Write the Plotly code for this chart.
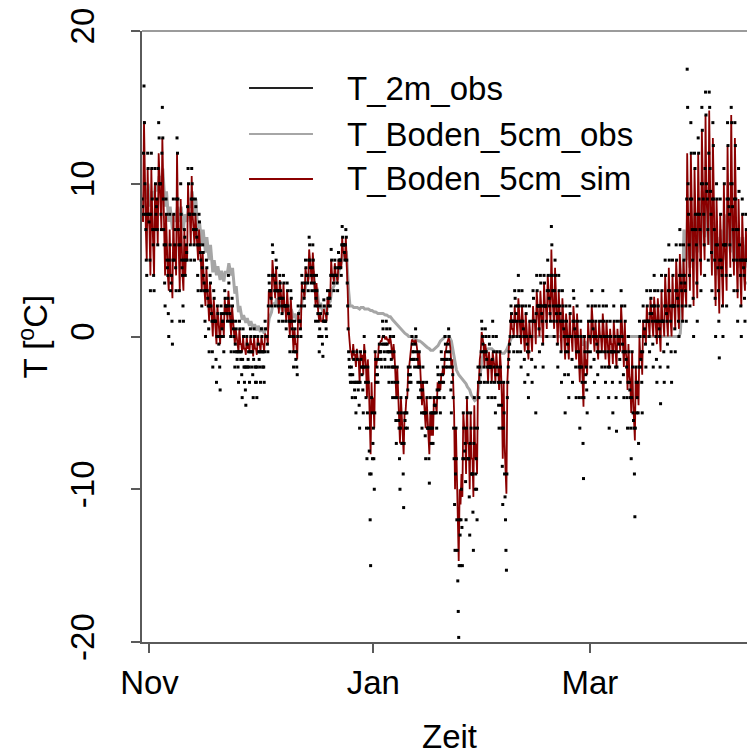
import plotly.graph_objects as go
from datetime import datetime, timedelta

# ---------------- data ----------------
start_day = "2016-10-30"
obs_hours = [0, 6, 12, 18]          # hours of the t2m_obs / simulated soil values per day
obs_hours_b = [3, 9, 15, 21]        # hours of the t2m_obs_b values per day
soil_obs_hours = [6, 15]            # hours of the observed soil values per day

# T_2m_obs, 4 values per day (00, 06, 12, 18 h), Oct 30 .. Apr 13
t2m_obs = [
    [9, 8, 16.4, 10], [7, 4, 12, 8], [8, 3, 12, 9], [6, 3, 11, 8], [9, 6, 14, 10],
    [10, 7, 15, 9], [6, 2, 9, 5], [4, 0, 8, 3], [4, -0.5, 9, 5], [7, 3, 13, 9],
    [6, 1, 10, 5], [4, 1, 7, 4], [6, 5, 11, 8], [8, 5, 11, 9], [7, 5, 9, 7],
    [6, 3, 8, 6], [5, 2, 6, 4], [3, 0, 5, 3], [2, -1, 4, 2], [1, -2, 3, 1],
    [1, -3, 2, 0], [0, -3.5, 2, 0.5], [1, -1, 3, 2], [2, 1, 4, 2], [1, -1, 2.5, 1],
    [0, -2, 1, -1], [-1, -3, 1, -1], [-1, -4, 0.5, -2], [-2, -4.5, 0, -2], [-1, -3, 0.5, -1],
    [-1, -4, 0.5, -2], [-2, -4, 0, -1], [-1, -3, 0.5, -1], [-1, -3, 1, 0], [0, -1, 4, 3],
    [3, 2, 6, 4], [4, 2, 5, 3], [3, 1, 4, 3], [2, 1, 4, 2], [2, 0.5, 3.5, 2],
    [1, -1, 3, 1], [0, -2, 1, -1], [-1, -2.5, 2, 1], [1, 0, 4, 3], [3, 2, 5, 4],
    [4, 3, 6.5, 5], [4, 3, 6, 4], [3, 1, 4, 2], [1, -1, 2, 0], [0, -1.3, 2.4, 1],
    [1, 0, 3, 2], [3, 2, 5.7, 4], [4, 3, 5, 4], [4, 3, 5.5, 4.5], [5, 4, 7.2, 6],
    [6, 5, 7, 5], [2, -1, -2, -3], [-2, -4, -1, -3], [-3, -5, -1, -3], [-3, -6, -1, -2],
    [-2, -5, 0, -2], [-4, -8, -2, -6], [-9, -15, -4, -8], [-6, -10, -1, -3], [-2, -3, 0, -1],
    [-1, -2, 1, 0], [-1, -2, 1, -0.5], [-1, -3, 0.5, -1], [-2, -4, 0, -2], [-4, -7, -2, -5],
    [-6, -10, -4, -7], [-7, -11.2, -5, -6], [-4, -6, -2, -3], [-2, -3, 0, -1], [-1, -2, 0.5, -1],
    [-2, -4, -1, -3], [-4, -6, -2, -5], [-5, -8, -3, -6], [-6, -9.6, -4, -7], [-5, -7, -4, -5],
    [-4, -6, -2, -4], [-3, -5, -1, -3], [-2, -4, 0, -2], [-1, -2, 0.5, -1], [-2, -5, -2, -4],
    [-8, -14, -6, -12], [-16, -19.7, -12, -15], [-10, -15, -5, -8], [-7, -12, -4, -8], [-8, -13, -5, -9],
    [-9, -14, -4, -10], [-8, -12, -2, -4], [-2, -3, 1, 0], [-1, -3, 0.5, -1], [-2, -4, 0, -2],
    [-2, -4, 1, -1], [-3, -5, 0, -2], [-3, -6, -1, -3], [-6, -11, -3, -9], [-12, -15.3, -4, -2],
    [-1, 0, 2, 1], [1, -1, 3, 2], [1, -1, 4, 2], [0, -2, 3, 1], [0, -3, 2, 0],
    [-1, -4, 2, 0], [0, -3, 3, 1], [1, -5, 4, 2], [2, -1, 4, 2], [1, -2, 4, 2],
    [2, 0, 5, 3], [2, 1, 7.2, 4], [2, 0, 5, 2], [1, -2, 4, 2], [1, -3, 3, 1],
    [0, -5, 2, 0], [-1, -4, 2, 0], [0, -3, 3, 1], [0, -4, 2, 0], [-2, -6, 1, -2],
    [-4, -9.3, 0, -3], [-2, -5, 2, 0], [0, -2, 3, 1], [0, -3, 2, 0], [-1, -4, 2, 0],
    [0, -2, 3, 1], [-1, -3, 2, 0], [-2, -6, 1, -1], [-1, -5, 2, 0], [-2, -6.2, 1, -1],
    [0, -3, 3, 0], [-1, -4, 2, -1], [-2, -6, 0, -3], [-4, -8, -1, -5], [-6, -11.8, -2, -5],
    [-3, -7, 1, -2], [-1, -5, 2, 0], [1, -2, 3, 1], [1, -1, 3, 2], [1, -2, 4, 2],
    [0, -3, 3, 1], [0, -4.4, 4, 1], [1, -3, 5, 2], [1, -2, 6, 3], [1, -3, 5, 2],
    [2, -1, 6, 3], [2, 0, 7, 4], [3, 1, 6, 4], [3, 1, 17.5, 10], [6, 2, 14, 9],
    [5, 0, 12, 8], [6, 1, 13, 9], [7, 3, 15, 10], [8, 4, 16, 10], [9, 5, 16, 11],
    [8, 3, 14, 9], [5, 0, 10, 6], [3, -1.4, 9, 5], [4, 0, 11, 6], [6, 2, 14, 9],
    [8, 4, 15, 10], [7, 3, 14, 9], [5, 1, 11, 6], [4, 0, 9, 5], [4, 1, 8, 5],
    [5, 2, 8, 5],
]

# T_2m_obs, further 4 values per day (03, 09, 15, 21 h)
t2m_obs_b = [
    [8.5, 12, 14, 8], [5, 8, 11, 7.5], [5, 8, 11, 7], [4, 7, 10, 8.5], [7, 11, 13, 10],
    [8, 12, 13, 7], [3.5, 6, 8, 4.5], [1.5, 5, 6, 3.5], [1, 5, 8, 6], [4.5, 9, 12, 7],
    [3, 6, 8, 4.5], [2, 5, 6.5, 5], [5.5, 8.5, 10, 8], [6, 9, 10, 8], [6, 8, 8.5, 6.5],
    [4, 6, 7.5, 5.5], [3, 4.5, 5.5, 3.5], [1, 3, 4.5, 2.5], [0.5, 2, 3.5, 1.5], [-1, 1, 2.5, 1],
    [-1.5, 0, 1.5, -0.5], [-2, 0, 1.5, 1], [0, 1.5, 2.5, 2], [1.5, 2.5, 3.5, 1.5], [0, 1, 2, 0.5],
    [-1, -0.5, 0.5, -1.5], [-2, -1, 0.5, -1.5], [-2.5, -1.5, 0, -3], [-3.5, -2, -0.5, -1.5], [-2, -1, 0, -2],
    [-2.5, -1.5, 0, -3], [-3, -2, -0.5, -1.5], [-2, -1, 0, -2], [-2, -1, 0.5, 0], [-0.5, 2, 3.5, 3],
    [2.5, 4, 5.5, 4], [3, 3.5, 4.5, 3], [2, 2.5, 3.5, 2.5], [1.5, 2.5, 3.5, 2], [1, 2, 3, 1.5],
    [0, 1, 2.5, 0.5], [-1, 0, 0.5, -1.5], [-2, 0, 1.5, 1], [0.5, 2, 3.5, 3], [2.5, 3.5, 4.5, 4],
    [3.5, 5, 6, 4.5], [3.5, 4.5, 5, 3.5], [2, 2.5, 3, 1.5], [0, 0.5, 1.5, 0], [-0.5, 1, 2, 1],
    [0.5, 1.5, 2.5, 2.5], [2.5, 4, 5, 4], [3.5, 4, 4.5, 4], [3.5, 4.5, 5, 5], [4.5, 6, 6.5, 6],
    [5.5, 6, 6.5, 3.5], [0.5, -1.5, -2.5, -2.5], [-3, -2.5, -1.5, -3.5], [-4, -3, -1.5, -3.5], [-4.5, -3, -1.5, -2.5],
    [-3.5, -2, -1, -3], [-6, -5, -3, -7.5], [-12, -9, -5, -7], [-8, -5, -1.5, -2.5], [-2.5, -1.5, -0.5, -1],
    [-1.5, -0.5, 0.5, -0.5], [-1.5, -0.5, 0.5, -1], [-2, -1, 0, -1.5], [-3, -2, -1, -3], [-5.5, -4, -3, -5.5],
    [-8, -6, -5, -7], [-9, -7, -5.5, -5], [-5, -3.5, -2.5, -2.5], [-2.5, -1.5, -0.5, -1.5], [-1.5, -0.5, 0, -1.5],
    [-3, -2, -2, -3.5], [-5, -3.5, -3, -5], [-6.5, -5, -4, -6], [-8, -6, -5, -6], [-6, -5, -4.5, -4.5],
    [-5, -3.5, -2.5, -3.5], [-4, -2.5, -1.5, -2.5], [-3, -1.5, -0.5, -1.5], [-1.5, -0.5, 0, -1.5], [-3.5, -3, -2.5, -6],
    [-11, -9, -8, -14], [-18, -15, -13, -12], [-12.5, -8, -6, -7.5], [-9.5, -6, -5, -8], [-10.5, -7, -6, -9],
    [-11.5, -7, -6, -9], [-10, -6, -3, -3], [-2.5, -1, 0.5, -0.5], [-2, -1, 0, -1.5], [-3, -2, -0.5, -2],
    [-3, -1.5, 0, -2], [-4, -2.5, -1, -2.5], [-4.5, -3, -2, -4.5], [-8.5, -6, -5, -10.5], [-14, -9, -3, -1.5],
    [-0.5, 1, 1.5, 1], [0, 1, 2.5, 1.5], [0, 2, 3, 1], [-1, 1, 2, 0.5], [-1.5, 0, 1.5, -0.5],
    [-2.5, -1, 1, 0], [-1.5, 1, 2.5, 1], [-2, 1.5, 3, 2], [0.5, 2, 3.5, 1.5], [-0.5, 2, 3.5, 2],
    [1, 3, 4, 2.5], [1.5, 4, 6, 3], [1, 3, 4, 1.5], [-0.5, 2, 3, 1.5], [-1, 1, 2, 0.5],
    [-2.5, -1, 1, -0.5], [-2.5, 0, 1.5, 0], [-1.5, 1, 2.5, 0.5], [-2, -1, 1, -1], [-4, -2, 0, -3],
    [-7, -4, -1, -2.5], [-3.5, -1, 1, 0], [-1, 1, 2, 0.5], [-1.5, 0, 1, -0.5], [-2.5, -1, 1, 0],
    [-1, 1, 2, 0], [-2, 0, 1, -1], [-4, -2, 0, -1], [-3, -1, 1, -1], [-4, -2, 0, -0.5],
    [-1.5, 1, 2, -0.5], [-2.5, -1, 1, -1.5], [-4, -3, -1, -3.5], [-6, -4, -2, -5.5], [-9, -6, -3, -4],
    [-5, -2, 0, -1.5], [-3, -1, 1, 0.5], [-0.5, 1, 2, 1], [0, 1.5, 2.5, 1.5], [-0.5, 2, 3, 1],
    [-1.5, 1, 2, 0.5], [-2, 1, 3, 1], [-1, 2, 4, 1.5], [-0.5, 3, 5, 2], [-1, 2, 4, 2],
    [0.5, 3, 5, 2.5], [1, 4, 6, 3.5], [2, 4, 5, 3.5], [2, 9, 15, 8], [4, 9, 12, 7],
    [2.5, 7, 11, 7], [3.5, 8, 12, 8], [5, 10, 13.5, 9], [6, 11, 14.5, 9.5], [7, 12, 15, 9.5],
    [5.5, 9, 12.5, 7], [2.5, 6, 9, 4.5], [1, 5, 8, 4.5], [2, 6, 10, 6], [4, 9, 12.5, 8.5],
    [6, 10, 14, 8.5], [5, 9, 12.5, 7], [3, 7, 9.5, 5], [2, 5, 8, 4.5], [2.5, 5, 7, 5],
    [3.5, 5.5, 7, 5],
]

# T_Boden_5cm_sim, 4 values per day (00, 06, 12, 18 h)
boden_5cm_sim = [
    [8, 7.5, 14.1, 9], [7, 5, 11, 8], [7, 4, 11, 8], [6, 4, 10, 7], [9, 6, 12, 10],
    [9, 7, 13, 9], [6, 4, 8, 5], [4, 3, 7, 4], [4, 2.5, 8, 5], [6, 4, 12, 8],
    [6, 3, 9, 5], [4, 3, 7, 4], [6, 5, 10, 8], [8, 6, 10.5, 8], [7, 6, 8, 7],
    [6, 5, 7, 6], [5, 3, 5.5, 4], [3, 2, 4.5, 3], [2, 1, 3.5, 2], [1.5, 0, 2.5, 1.5],
    [1, -0.5, 2, 1], [0.5, -0.5, 1.5, 0.5], [1, 0, 2.5, 1.5], [2, 1, 3, 2], [1, 0, 2, 1],
    [0, -0.5, 0.5, 0], [-0.5, -1, 0.5, -0.5], [-0.5, -1, 0, -0.8], [-0.8, -1.2, 0, -0.8], [-0.5, -1, 0, -0.5],
    [-0.5, -1.3, 0, -0.8], [-0.8, -1.2, 0, -0.5], [-0.5, -1, 0, -0.5], [-0.5, -1, 0.2, 0], [0, -0.5, 3, 2.5],
    [3, 2, 5, 4], [3.5, 2.5, 4.5, 3], [3, 1.5, 3.7, 3], [2.5, 1.5, 3.5, 2], [2, 1, 3, 2],
    [1.5, 0, 2.5, 1], [0.5, -1, 0.5, -0.5], [-0.5, -1.5, 1.5, 1], [1, 0.5, 3.5, 3], [3, 2.5, 4.5, 4],
    [4, 3.5, 5.7, 5], [4, 3.5, 5.5, 4], [3, 2, 3.5, 2], [1.5, 1, 1.5, 1], [1, 1, 1.8, 1.5],
    [1.5, 1, 2.5, 2], [3, 2.5, 5, 4], [4, 3.6, 4.8, 4], [4, 3.5, 5, 4.5], [5, 4.5, 6.5, 5.5],
    [5.5, 5, 6.5, 5], [3, 0.5, -0.5, -1], [-1, -1.5, -0.5, -1.2], [-1.2, -2, -0.8, -1.5], [-1.5, -3, -1, -1.5],
    [-1.2, -2.5, -0.5, -1.5], [-2, -4, -1.5, -3], [-5, -7.7, -3, -5], [-4, -6, -1, -2], [-1.5, -1.5, -0.5, -0.5],
    [-0.3, -0.3, 0, 0], [0, -0.2, 0, -0.2], [-0.2, -0.5, 0, -0.3], [-0.8, -1.5, -0.5, -1.2], [-2.5, -4, -2, -3.5],
    [-5, -7, -4, -6], [-6.5, -7.7, -5, -5], [-4, -4, -2, -2], [-1.5, -1, -0.2, -0.3], [-0.3, -0.5, -0.2, -0.5],
    [-1, -2, -1, -2], [-3, -4.5, -3, -4], [-4.5, -6, -4, -5.5], [-6, -7.7, -5, -6.5], [-5, -6.5, -4, -4.5],
    [-4.5, -5, -3, -3.5], [-3, -3.5, -2.5, -2.5], [-2, -2.5, -1, -1], [-0.5, -0.3, -0.1, -0.3], [-0.8, -2, -1.5, -3],
    [-5, -10, -6, -9], [-12, -14.7, -10, -11], [-9, -10.5, -5, -6], [-6, -9, -4, -7], [-7, -10, -5, -8],
    [-8, -10.5, -4.5, -8], [-7, -9, -3, -3], [-1.5, -1, 0.3, 0], [-0.5, -2, -0.5, -1], [-1.5, -3, -1, -2],
    [-1.5, -3, -1, -1.5], [-2, -3, -1, -2], [-2, -3.5, -1, -2], [-4, -8, -3, -7], [-9, -10.3, -3, -1],
    [-0.3, 0, 1.5, 0.5], [0.5, 0, 2, 1], [1, 0, 2.5, 1.5], [0.5, -0.5, 2, 1], [0, -1, 1.5, 0.5],
    [-0.5, -1.5, 1, 0], [0, -1, 2, 1], [1, -0.5, 3, 2], [1.5, 0, 3, 2], [1, -0.5, 3.5, 2],
    [2, 0.5, 4, 2.5], [2, 1, 5.7, 3], [2, 0.5, 4.5, 2], [1, -0.5, 3, 1.5], [0.5, -1, 2.5, 1],
    [0, -1.5, 1.5, 0], [-0.5, -1.5, 1.5, 0], [0, -1, 2, 1], [0, -1.5, 1.5, 0], [-1, -3, 0.5, -1.5],
    [-3, -4.6, 0, -2], [-1.5, -2.5, 1, 0], [0, -0.5, 2, 0.5], [0, -1, 1, 0], [-0.5, -1.5, 1, 0],
    [0, -1, 1.5, 0.5], [-0.5, -1.5, 1, 0], [-1, -2, 0.5, -0.5], [-0.5, -1.8, 1, 0], [-1, -2, 0.5, -0.5],
    [0, -1, 2, 0], [-0.5, -2, 1, -1], [-1.5, -3.5, -0.5, -2.5], [-3, -5, -1, -4], [-5, -6.8, -2, -4],
    [-3, -4.5, 0, -1.5], [-1, -2.5, 1, 0], [0.5, -0.5, 2, 1], [1, 0, 2.5, 1.5], [1, 0, 2.6, 1.5],
    [0.5, -0.5, 2.5, 1], [0, -1, 3, 1], [1, 0, 4, 2], [1, 0, 4.5, 2], [1, 0, 4, 2],
    [2, 0.5, 5, 3], [2, 0.5, 5.4, 3], [2.5, 1, 5, 3.5], [3, 2, 12, 8], [5, 3, 12, 8],
    [5, 2, 11, 7], [5, 2.5, 12, 8], [6, 4, 13.5, 9], [7, 5, 14.5, 9], [8, 6, 14.8, 10],
    [7, 4, 13, 8], [5, 2, 9, 6], [3, 1.5, 8, 5], [4, 2, 10, 6], [5, 3, 12.5, 8],
    [7, 4.5, 14.5, 9], [6, 4, 13, 8], [5, 2.5, 9, 6], [4, 2, 8, 5], [4, 3, 7, 5],
    [5, 3, 7, 5],
]

# T_Boden_5cm_obs, 2 values per day (06, 15 h)
boden_5cm_obs = [
    [8.5, 9.5], [9, 10], [8.5, 9.5], [9, 10], [9.5, 10.5],
    [10, 11], [8.5, 9.5], [7.5, 8.5], [7, 8], [7.5, 8.5],
    [7.5, 8.5], [7, 8], [7.5, 8.5], [8.5, 9.5], [8, 9],
    [6.5, 7.5], [6, 7], [5.5, 6.5], [5, 6], [4.2, 5],
    [4, 4.6], [3.7, 4.3], [3.6, 4.2], [4.2, 4.8], [4, 4.5],
    [2.8, 3.3], [1.6, 2], [1.1, 1.4], [0.9, 1.2], [0.7, 1],
    [0.5, 0.8], [0.4, 0.7], [0.3, 0.6], [0.2, 0.5], [0.5, 1.2],
    [1.6, 2.2], [2, 2.5], [1.8, 2.3], [1.6, 2.1], [1.6, 2],
    [1.4, 1.8], [1.2, 1.5], [1, 1.5], [1.8, 2.4], [2.8, 3.4],
    [3.8, 4.3], [4, 4.3], [2.8, 3.2], [1.8, 2.2], [1.6, 2],
    [1.6, 2.1], [2.3, 3], [3.3, 3.8], [3.8, 4.3], [4.8, 5.3],
    [5.3, 5.6], [3, 2], [2, 1.9], [1.9, 1.9], [1.8, 1.9],
    [1.9, 1.8], [1.8, 1.8], [1.7, 1.7], [1.6, 1.6], [1.5, 1.5],
    [1.5, 1.5], [1.4, 1.4], [1.3, 1.3], [1.1, 1], [0.8, 0.7],
    [0.5, 0.4], [0.3, 0.2], [0.1, 0], [0, 0], [-0.2, -0.2],
    [-0.3, -0.3], [-0.4, -0.5], [-0.6, -0.7], [-0.8, -0.9], [-0.9, -0.8],
    [-0.7, -0.6], [-0.3, -0.2], [-0.1, 0], [0, 0], [-0.3, -0.8],
    [-1.6, -2.2], [-2.5, -2.6], [-2.8, -2.9], [-3.1, -3.3], [-3.5, -3.8],
    [-4.1, -4.2], [-4.1, -3.5], [-2.2, -1.4], [-1, -0.9], [-0.8, -0.8],
    [-0.8, -0.9], [-1, -1], [-1, -1.1], [-1.1, -1.1], [-0.9, -0.7],
    [-0.3, -0.1], [0, 0], [0, 0], [0, 0], [0, 0],
    [0, 0], [0, 0], [0, 0], [0, 0], [0, 0],
    [0, 0], [0, 0], [0, 0], [0, 0], [0, 0],
    [0, 0], [0, 0], [0, 0], [0, 0], [0, 0],
    [-0.6, -0.3], [-0.8, -0.2], [0, 0], [0, 0], [0, 0],
    [0, 0], [0, 0], [0, 0], [0, 0], [0, 0],
    [0, 0], [0, 0], [0, 0], [0, 0], [0, 0],
    [0, 0], [0, 0], [0, 0], [0, 0], [0, 0],
    [0, 0], [0, 0], [0, 0], [0, 0], [0, 0],
    [0, 0], [0, 0.2], [3, 7], [5, 8], [4.5, 7.5],
    [5, 8], [5.5, 9], [6, 9.5], [6.5, 9.8], [6, 9],
    [5, 7.5], [4, 6.5], [4, 7], [5, 8], [6, 9],
    [5.5, 8.5], [5, 7], [4.5, 6.5], [4.5, 6.5], [4.5, 6],
]

series_names = ["T_2m_obs", "T_Boden_5cm_obs", "T_Boden_5cm_sim"]
series_colors = ["#000000", "#A6A6A6", "#8B0000"]
x_tick_dates = ["2016-11-01", "2017-01-01", "2017-03-01"]
x_tick_labels = ["Nov", "Jan", "Mar"]
y_ticks = [-20, -10, 0, 10, 20]
x_range = ["2016-10-29 23:00", "2017-04-12 19:12"]
y_range = [-20, 20]

# ---------------- build series on the time axis ----------------
base = datetime.fromisoformat(start_day)


def expand(daily, hours):
    xs, ys = [], []
    for d, vals in enumerate(daily):
        for h, v in zip(hours, vals):
            xs.append(base + timedelta(days=d, hours=h))
            ys.append(v)
    return xs, ys


x_air_a, y_air_a = expand(t2m_obs, obs_hours)
x_air_b, y_air_b = expand(t2m_obs_b, obs_hours_b)
x_air, y_air = x_air_a + x_air_b, y_air_a + y_air_b
x_sim, y_sim = expand(boden_5cm_sim, obs_hours)
x_soil, y_soil = expand(boden_5cm_obs, soil_obs_hours)

FONT = "Liberation Sans, Arial, Helvetica, sans-serif"
AXIS_COL = "#5a5a5a"

fig = go.Figure()
fig.add_trace(go.Scatter(x=x_soil, y=y_soil, mode="lines", name=series_names[1],
                         line=dict(color=series_colors[1], width=3)))
fig.add_trace(go.Scatter(x=x_sim, y=y_sim, mode="lines", name=series_names[2],
                         line=dict(color=series_colors[2], width=1.8)))
fig.add_trace(go.Scatter(x=x_air, y=y_air, mode="markers", name=series_names[0],
                         marker=dict(color=series_colors[0], size=3, symbol="square",
                                     line=dict(width=0))))

fig.update_layout(
    width=747, height=755,
    margin=dict(l=142, r=0, t=31, b=113, pad=0),
    plot_bgcolor="white", paper_bgcolor="white",
    showlegend=False,
    font=dict(family=FONT, size=33, color="black"),
)
fig.update_xaxes(
    range=x_range, tickvals=x_tick_dates, ticktext=x_tick_labels,
    ticks="outside", ticklen=9, tickwidth=1.5, tickcolor=AXIS_COL,
    showline=True, linecolor=AXIS_COL, linewidth=1.5,
    showgrid=False, zeroline=False, ticklabelstandoff=2,
    tickfont=dict(family=FONT, size=33, color="black"),
)
fig.update_yaxes(
    range=y_range, tickvals=y_ticks, ticktext=[str(v) for v in y_ticks],
    tickangle=-90,
    ticks="outside", ticklen=9, tickwidth=1.5, tickcolor=AXIS_COL,
    showline=True, linecolor=AXIS_COL, linewidth=1.5,
    showgrid=False, zeroline=False, ticklabelstandoff=24,
    tickfont=dict(family=FONT, size=33, color="black"),
)

# top border of the box
fig.add_shape(type="line", xref="paper", yref="paper", x0=0, x1=1, y0=1, y1=1,
              line=dict(color="#7a7a7a", width=1.5))

# axis titles
fig.add_annotation(text="Zeit", xref="paper", yref="paper", x=0.509, y=-0.155,
                   xanchor="center", yanchor="middle", showarrow=False,
                   font=dict(family=FONT, size=33, color="black"))
fig.add_annotation(text="T [<sup>o</sup>C]", xref="paper", yref="paper", x=-0.18, y=0.5,
                   xanchor="center", yanchor="middle", textangle=-90, showarrow=False,
                   font=dict(family=FONT, size=33, color="black"))

# legend (drawn like the R legend: line sample + label)
leg_y = [0.9067, 0.8314, 0.7578]
for name, col, yy in zip(series_names, series_colors, leg_y):
    fig.add_shape(type="line", xref="paper", yref="paper", x0=0.1769, x1=0.2826,
                  y0=yy, y1=yy, line=dict(color=col if col != "#000000" else "#222222", width=2))
    fig.add_annotation(text=name, xref="paper", yref="paper", x=0.3355, y=yy,
                       xanchor="left", yanchor="middle", showarrow=False,
                       font=dict(family=FONT, size=33, color="black"))

fig.write_html("out.html")
